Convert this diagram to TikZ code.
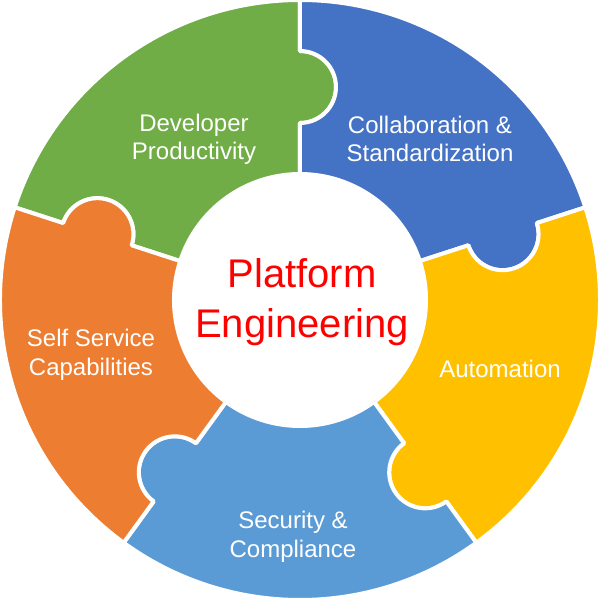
\documentclass[tikz,border=0pt]{standalone}
\usepackage{fontspec}
\setmainfont{Liberation Sans}
\definecolor{pgreen}{HTML}{70AD47}
\definecolor{pblue}{HTML}{4472C4}
\definecolor{pyellow}{HTML}{FFC000}
\definecolor{plblue}{HTML}{5B9BD5}
\definecolor{porange}{HTML}{ED7D31}
\definecolor{pred}{HTML}{FF0000}
\newcommand\puzzlepiece[3]{%
  \pgfmathsetmacro\pa{#2}\pgfmathsetmacro\pb{#3}%
  \pgfmathsetmacro\pbb{#3-180}\pgfmathsetmacro\paa{#2+180}\pgfmathsetmacro\paaa{#2+360}%
  \path[piece=#1] (\pa:300) arc[start angle=\pa, end angle=\pb, radius=300]
    -- (\pb:249) arc[start angle=\pb, end angle=\pbb, radius=36]
    -- (\pb:126) arc[start angle=\pb, end angle=\pa, radius=126]
    -- (\pa:177) arc[start angle=\paa, end angle=\paaa, radius=36]
    -- cycle;
}
\begin{document}
\begin{tikzpicture}[x=1pt,y=1pt,
  piece/.style={fill=#1, draw=white, line width=4pt, line join=round},
  lbl/.style={text=white, font=\fontsize{24}{29}\selectfont, align=center, anchor=base, inner sep=0pt},
  title/.style={text=pred, font=\fontsize{40}{50}\selectfont, align=center, anchor=base, inner sep=0pt}]
\useasboundingbox (-300,-300) rectangle (300,300);
\fill[white] (-300,-300) rectangle (300,300);
\puzzlepiece{pgreen}{162}{90}
\puzzlepiece{pblue}{90}{18}
\puzzlepiece{pyellow}{18}{-54}
\puzzlepiece{plblue}{-54}{-126}
\puzzlepiece{porange}{-126}{-198}
\node[lbl] (dev) at (-106,140) {Developer\\Productivity};
\node[lbl] (col) at (130,138) {Collaboration \&\\Standardization};
\node[lbl] (aut) at (200,-77) {Automation};
\node[lbl] (sel) at (-209,-75) {Self Service\\Capabilities};
\node[lbl] (sec) at (-7,-257) {Security \&\\Compliance};
\node[title] (pe) at (2,-37) {Platform\\Engineering};
\end{tikzpicture}
\end{document}
